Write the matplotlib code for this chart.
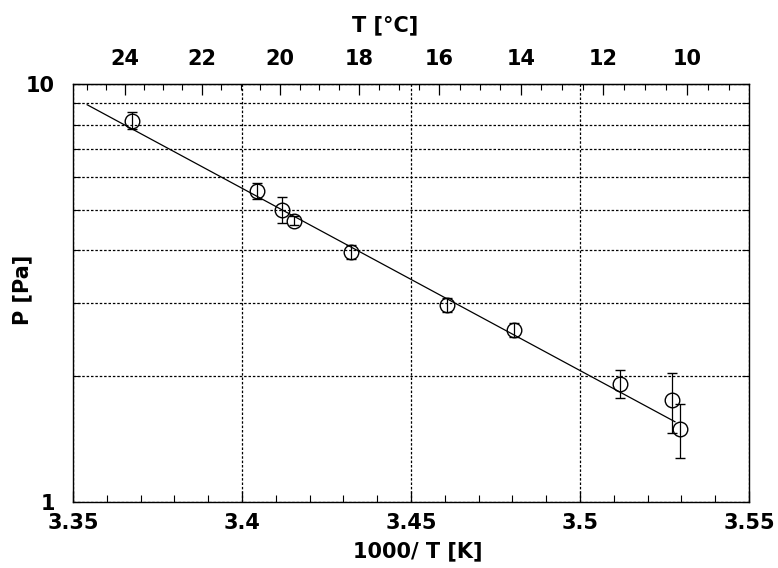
import numpy as np
import matplotlib.pyplot as plt
from matplotlib.ticker import FixedLocator, NullFormatter, MultipleLocator

plt.rcParams['font.family'] = ['DejaVu Sans']
plt.rcParams['font.weight'] = 'bold'

# measured points: 1000/T [1/K], pressure [Pa], error [Pa]
inv_T = [3.3675, 3.4043, 3.4118, 3.4154, 3.4323, 3.4606, 3.4806, 3.5118, 3.5271, 3.5296]
P = [8.17, 5.55, 5.00, 4.71, 3.96, 2.96, 2.58, 1.92, 1.75, 1.495]
P_err = [0.38, 0.25, 0.36, 0.12, 0.15, 0.11, 0.10, 0.15, 0.29, 0.22]

# fitted line ends
fit_x = [3.3542, 3.5281]
fit_P = [8.92, 1.556]

# top axis ticks [deg C]
t_major = [24, 22, 20, 18, 16, 14, 12, 10]
t_minor = np.arange(9, 25.5, 0.5)

fs = 15

fig = plt.figure(figsize=(7.78, 5.68), dpi=100)
ax = fig.add_axes([0.0938, 0.1162, 0.8689, 0.7359])

ax.plot(fit_x, fit_P, color='black', lw=0.9)
ax.errorbar(inv_T, P, yerr=P_err, fmt='o', ms=10.5, mfc='none', mec='black',
            mew=1.0, ecolor='black', elinewidth=0.9, capsize=3.5, capthick=0.9)

ax.set_yscale('log')
ax.set_xlim(3.35, 3.55)
ax.set_ylim(1, 10)

ax.xaxis.set_major_locator(FixedLocator([3.35, 3.4, 3.45, 3.5, 3.55]))
ax.set_xticklabels(['3.35', '3.4', '3.45', '3.5', '3.55'])
ax.xaxis.set_minor_locator(MultipleLocator(0.01))
ax.yaxis.set_major_locator(FixedLocator([1, 10]))
ax.set_yticklabels(['1', '10'])
ax.yaxis.set_minor_locator(FixedLocator([2, 3, 4, 5, 6, 7, 8, 9]))
ax.yaxis.set_minor_formatter(NullFormatter())

ax.tick_params(axis='x', which='major', direction='in', length=8, width=0.9,
               labelsize=fs, pad=8, top=False)
ax.tick_params(axis='x', which='minor', direction='in', length=5, width=0.8, top=False)
ax.tick_params(axis='y', which='both', direction='in', length=5, width=0.8,
               right=True, labelsize=fs, pad=13)

ax.grid(True, which='major', axis='x', color='black', lw=0.9, ls=(0, (2, 1.5)))
ax.grid(True, which='both', axis='y', color='black', lw=0.9, ls=(0, (2, 1.5)))

for s in ax.spines.values():
    s.set_linewidth(1.0)

top = ax.secondary_xaxis('top', functions=(lambda x: 1000.0 / x - 273.15,
                                           lambda c: 1000.0 / (c + 273.15)))
top.xaxis.set_major_locator(FixedLocator(t_major))
top.set_xticklabels([str(t) for t in t_major])
top.xaxis.set_minor_locator(FixedLocator(t_minor))
top.tick_params(axis='x', which='major', direction='in', length=8, width=0.9,
                labelsize=fs, pad=11)
top.tick_params(axis='x', which='minor', direction='in', length=4, width=0.8)

# axis titles
fig.text(418 / 778, 1 - 551 / 568, '1000/ T [K]', fontsize=fs, fontweight='bold',
         ha='center', va='center')
fig.text(22 / 778, 1 - 290 / 568, 'P [Pa]', fontsize=fs, fontweight='bold',
         ha='center', va='center', rotation=90)
fig.text(385 / 778, 1 - 25 / 568, 'T [°C]', fontsize=fs, fontweight='bold',
         ha='center', va='center')

fig.savefig('out.png', dpi=100)
